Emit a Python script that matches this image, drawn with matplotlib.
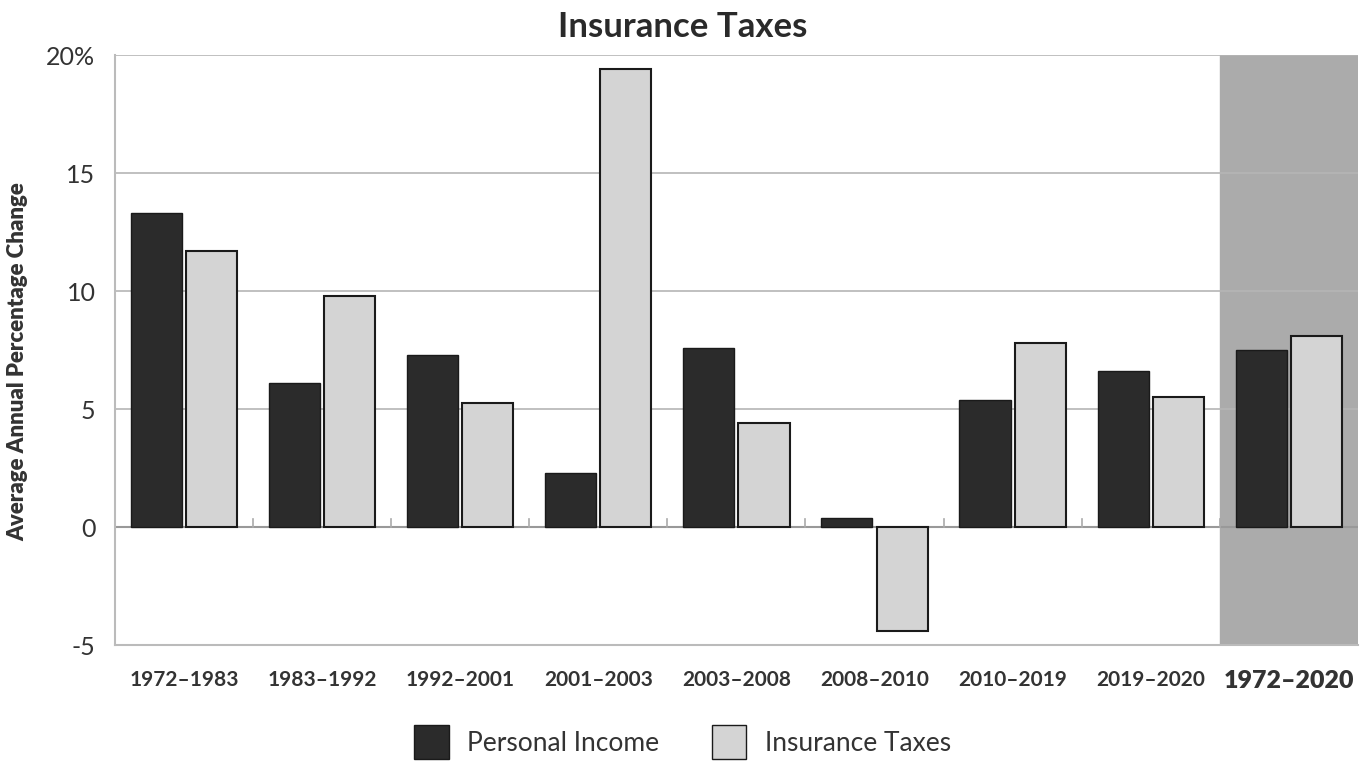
import numpy as np
import matplotlib
matplotlib.use("Agg")
import matplotlib.pyplot as plt
from matplotlib.patches import Patch

# valores
periodos = ["1972\u20131983", "1983\u20131992", "1992\u20132001", "2001\u20132003",
            "2003\u20132008", "2008\u20132010", "2010\u20132019", "2019\u20132020",
            "1972\u20132020"]
personal_income = [13.3, 6.1, 7.3, 2.3, 7.6, 0.4, 5.4, 6.6, 7.5]
insurance_taxes = [11.7, 9.8, 5.25, 19.4, 4.4, -4.4, 7.8, 5.5, 8.1]

plt.rcParams['font.family'] = ['Lato', 'DejaVu Sans']

fig = plt.figure(figsize=(13.65, 7.61), dpi=100)
ax = fig.add_axes([0.0842, 0.1524, 0.9106, 0.7753])

x = np.arange(len(periodos))
w = 0.37
ax.axvspan(7.5, 8.5, color='#ababab', zorder=0)
for y in [5, 10, 15, 20]:
    ax.axhline(y, color='#b5b5b5', lw=1.2, zorder=1)
ax.axhline(0, color='#999999', lw=1.5, zorder=1)

ax.bar(x - 0.2, personal_income, w, color='#2b2b2b', edgecolor='#1a1a1a',
       lw=1, zorder=3)
ax.bar(x + 0.2, insurance_taxes, w, color='#d4d4d4', edgecolor='#1a1a1a',
       lw=1.5, zorder=3)

# pequenos tracos entre grupos na linha do zero
for b in np.arange(0.5, 8, 1):
    ax.plot([b, b], [0, 0.35], color='#aaaaaa', lw=1.2, zorder=2)

ax.set_xlim(-0.5, 8.5)
ax.set_ylim(-5, 20)
ax.set_yticks([-5, 0, 5, 10, 15, 20])
ax.set_yticklabels(['-5', '0', '5', '10', '15', '20%'])
ax.tick_params(axis='y', length=0, labelsize=18, pad=14, colors='#333333')
ax.set_xticks(x)
ax.set_xticklabels(periodos, fontweight='bold', fontsize=15, color='#333333')
ax.get_xticklabels()[-1].set_fontsize(18)
ax.get_xticklabels()[-1].set_fontweight('heavy')
ax.tick_params(axis='x', length=0, pad=18)

for s in ['top', 'right']:
    ax.spines[s].set_visible(False)
for s in ['left', 'bottom']:
    ax.spines[s].set_color('#bbbbbb')
    ax.spines[s].set_linewidth(1.5)

fig.text(0.5, 0.965, 'Insurance Taxes', ha='center', va='center',
         fontsize=25, fontweight='bold', color='#2a2a2a')
fig.text(0.013, 0.525, 'Average Annual Percentage Change', rotation=90,
         ha='center', va='center', fontsize=16, fontweight='heavy', color='#333333')

handles = [Patch(facecolor='#2b2b2b', edgecolor='#1a1a1a', label='Personal Income'),
           Patch(facecolor='#d4d4d4', edgecolor='#1a1a1a', label='Insurance Taxes')]
fig.legend(handles=handles, loc='center', bbox_to_anchor=(0.5, 0.025), ncol=2,
           frameon=False, fontsize=19, handlelength=1.3, handleheight=1.6,
           handletextpad=0.7, columnspacing=2.0, labelcolor='#333333')

fig.savefig('out.png', dpi=100)
